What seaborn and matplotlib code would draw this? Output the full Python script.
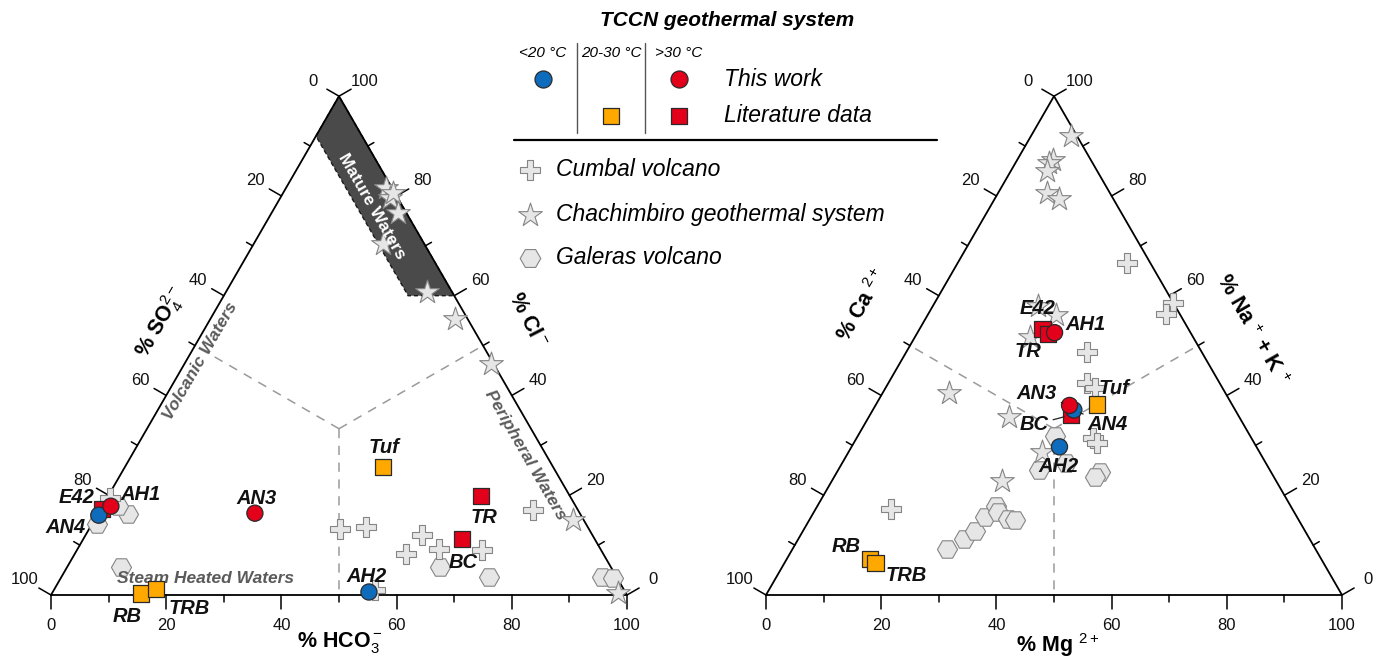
import numpy as np
import pandas as pd
import matplotlib
matplotlib.use("Agg")
import matplotlib.pyplot as plt
import seaborn as sns
from matplotlib.patches import Polygon

# TCCN samples, same order in both diagrams
sample_names = ["E42", "AH1", "AN4", "AN3", "RB", "TRB", "AH2", "Tuf", "TR", "BC"]
sample_groups = ["lit_hot", "this_hot", "this_cold", "this_hot", "lit_warm", "lit_warm",
                 "this_cold", "lit_warm", "lit_hot", "lit_hot"]

# anion diagram: % HCO3 and % Cl (SO4 is the rest)
sample_hco3 = [0.3, 1.5, 0.3, 27.2, 15.5, 17.6, 54.9, 44.8, 64.7, 65.8]
sample_cl = [17.2, 17.8, 16.0, 16.4, 0.3, 1.2, 0.6, 25.7, 19.8, 11.2]

# cation diagram: % Mg and % Na+K (Ca is the rest)
sample_mg = [21.3, 23.8, 34.9, 33.7, 14.5, 15.8, 36.1, 38.3, 22.7, 34.9]
sample_nak = [53.4, 52.6, 37.1, 38.0, 7.2, 6.4, 29.7, 38.2, 52.4, 36.1]

# reference data
cumbal_hco3 = [43.6, 47.9, 57.5, 58.4, 62.8, 70.3, 75.2, 55.8, 0.5]
cumbal_cl = [13.2, 13.6, 8.2, 12.0, 9.2, 9.0, 17.0, 1.0, 19.5]
cumbal_mg = [29.4, 41.3, 41.2, 31.4, 34.5, 36.5, 41.1, 42.3, 13.1]
cumbal_nak = [66.5, 58.6, 56.4, 48.8, 42.4, 41.4, 31.5, 30.5, 17.3]

chachimbiro_hco3 = [17.4, 19.1, 19.1, 21.9, 22.4, 34.9, 42.5, 53.2, 83.1, 98.2]
chachimbiro_cl = [81.6, 79.6, 80.6, 76.6, 70.4, 60.7, 55.3, 46.3, 15.0, 0.4]
chachimbiro_mg = [7.0, 6.1, 5.7, 6.4, 8.6, 11.3, 18.3, 22.2, 20.0, 11.6, 24.3, 33.5, 29.6]
chachimbiro_nak = [92.0, 87.3, 86.7, 84.9, 80.5, 79.3, 58.0, 56.2, 51.8, 40.4, 35.7, 28.7, 22.9]

galeras_hco3 = [0.9, 5.3, 2.7, 9.4, 64.7, 74.2, 93.9, 95.9]
galeras_cl = [14.2, 16.2, 17.8, 5.6, 5.6, 3.6, 3.6, 3.4]
galeras_mg = [34.3, 34.8, 38.8, 45.7, 45.2, 26.9, 28.8, 29.9, 30.2, 30.9, 32.0, 34.3, 35.7]
galeras_nak = [31.9, 25.1, 26.5, 24.7, 23.7, 9.2, 11.2, 12.9, 15.7, 17.9, 16.7, 15.3, 15.1]

# mature waters field (HCO3, Cl)
mature_hco3 = [0, 0, 32, 40]
mature_cl = [100, 92, 60, 60]

tick_values = list(range(0, 101, 10))

# label offsets in pixels (dx, dy up)
anion_offsets = {"E42": (-26, 12), "AH1": (30, 12), "AN4": (-33, -12), "AN3": (2, 15),
                 "RB": (-14, -23), "TRB": (33, -19), "AH2": (-2, 16), "Tuf": (1, 19),
                 "TR": (3, -21), "BC": (1, -23)}
cation_offsets = {"E42": (-5, 20), "TR": (-20, -18), "AH1": (31, 8), "AN3": (-33, 12),
                  "BC": (-37, -10), "AN4": (34, -15), "Tuf": (17, 16), "AH2": (-1, -20),
                  "RB": (-24, 13), "TRB": (31, -12)}
cation_leaders = ["AN3", "BC", "AN4"]

group_color = {"this_cold": "#0f6cbd", "this_hot": "#e2001a",
               "lit_warm": "#ffa800", "lit_hot": "#e2001a"}
group_marker = {"this_cold": "o", "this_hot": "o", "lit_warm": "s", "lit_hot": "s"}
draw_order = {"lit_warm": 0, "lit_hot": 1, "this_cold": 2, "this_hot": 3}

GRAY_FACE = "#e6e6e6"
GRAY_EDGE = "#858585"
REGION_GRAY = "#5a5a5a"

sns.set_style("white")
plt.rcParams["font.family"] = ["Liberation Sans", "DejaVu Sans"]
plt.rcParams["text.color"] = "black"
plt.rcParams["mathtext.fontset"] = "custom"
plt.rcParams["mathtext.rm"] = "Liberation Sans"
plt.rcParams["mathtext.it"] = "Liberation Sans:italic"
plt.rcParams["mathtext.bf"] = "Liberation Sans:bold"

W, H = 1386, 661
S = 5.76  # pixels per percent
R3 = np.sqrt(3) / 2


def to_xy(right, top):
    right = np.asarray(right, float)
    top = np.asarray(top, float)
    return right + top / 2, top * R3


fig = plt.figure(figsize=(W / 100, H / 100), dpi=100)


def make_ax(px_left, px_width, x0):
    ax = fig.add_axes([px_left / W, 0, px_width / W, 1])
    ax.set_xlim((px_left - x0) / S, (px_left + px_width - x0) / S)
    ax.set_ylim((595 - H) / S, 595 / S)
    ax.axis("off")
    return ax


def draw_frame(ax):
    cx, cy = to_xy([0, 100, 0, 0], [0, 0, 100, 0])
    ax.plot(cx, cy, color="black", lw=1.3, zorder=3)
    # dashed lines from centre to edge midpoints
    gx, gy = to_xy(100 / 3, 100 / 3)
    for mx, my in [to_xy(0, 50), to_xy(50, 50), to_xy(50, 0)]:
        ax.plot([gx, mx], [gy, my], color="#9a9a9a", lw=1.1, ls=(0, (6, 5)), zorder=1)
    edges = [
        (lambda v: to_xy(v, 0), (0, -1)),           # bottom
        (lambda v: to_xy(0, 100 - v), (-R3, 0.5)),  # left
        (lambda v: to_xy(100 - v, v), (R3, 0.5)),   # right
    ]
    for pos, (nx, ny) in edges:
        for v in tick_values:
            px, py = pos(v)
            major = v % 20 == 0
            ln = (14 if major else 7) / S
            ax.plot([px, px + nx * ln], [py, py + ny * ln], color="black", lw=1.1, zorder=3)
            if major:
                d = 30 / S
                ax.text(px + nx * d, py + ny * d, str(v), ha="center", va="center",
                        fontsize=12, color="#111")


def draw_points(ax, right_ref, top_ref, right_s, top_s, offsets, leaders):
    refs = [
        (right_ref[0], top_ref[0], "P", 210),
        (right_ref[1], top_ref[1], "*", 320),
        (right_ref[2], top_ref[2], "H", 210),
    ]
    # galeras first, then cumbal, then chachimbiro on top
    for idx in [2, 0, 1]:
        r, t, m, s = refs[idx]
        x, y = to_xy(r, t)
        sns.scatterplot(x=x, y=y, marker=m, s=s, color=GRAY_FACE, edgecolor=GRAY_EDGE,
                        linewidth=0.8, ax=ax, zorder=4, legend=False)
    x, y = to_xy(right_s, top_s)
    df = pd.DataFrame({"name": sample_names, "group": sample_groups, "x": x, "y": y})
    df["order"] = df["group"].map(draw_order)
    df = df.sort_values("order", kind="stable")
    sns.scatterplot(data=df, x="x", y="y", hue="group", style="group",
                    palette=group_color, markers=group_marker, s=135,
                    edgecolor="#2a2a2a", linewidth=0.9, ax=ax, zorder=6, legend=False)
    for _, row in df.iterrows():
        dx, dy = offsets[row["name"]]
        arrow = None
        if row["name"] in leaders:
            arrow = dict(arrowstyle="-", color="#222", lw=0.9, shrinkA=1, shrinkB=5)
        ax.annotate(row["name"], xy=(row["x"], row["y"]), xytext=(dx * 0.72, dy * 0.72),
                    textcoords="offset points", ha="center", va="center",
                    fontsize=14.5, fontweight="bold", fontstyle="italic", color="#111",
                    arrowprops=arrow, zorder=7)


# ---------------- anion diagram ----------------
axL = make_ax(0, 700, 51)
draw_frame(axL)
mx, my = to_xy(mature_hco3, mature_cl)
axL.add_patch(Polygon(np.column_stack([mx, my]), closed=True, facecolor="#4a4a4a",
                      edgecolor="#1a1a1a", ls=(0, (3, 2)), lw=1.0, zorder=2))
axL.text(55.7, 67.4, "Mature Waters", rotation=-60, ha="center", va="center",
         color="white", fontsize=12.5, fontweight="bold", zorder=5)
axL.text(26.0, 40.6, "Volcanic Waters", rotation=60, ha="center", va="center",
         color=REGION_GRAY, fontsize=12.5, fontweight="bold", fontstyle="italic")
axL.text(82.3, 24.3, "Peripheral Waters", rotation=-60, ha="center", va="center",
         color=REGION_GRAY, fontsize=12.5, fontweight="bold", fontstyle="italic")
axL.text(26.9, 2.95, "Steam Heated Waters", ha="center", va="center",
         color=REGION_GRAY, fontsize=12.5, fontweight="bold", fontstyle="italic", zorder=5)
axL.text(19.1, 47.4, r"% SO$_4^{2-}$", rotation=60, ha="center", va="center",
         fontsize=15.5, fontweight="bold")
axL.text(82.6, 47.7, r"% Cl$^-$", rotation=-63, ha="center", va="center",
         fontsize=15.5, fontweight="bold")
axL.text(50.2, -8.3, r"% HCO$_3^-$", ha="center", va="center",
         fontsize=15.5, fontweight="bold")
draw_points(axL, [cumbal_hco3, chachimbiro_hco3, galeras_hco3],
            [cumbal_cl, chachimbiro_cl, galeras_cl],
            sample_hco3, sample_cl, anion_offsets, [])

# ---------------- cation diagram ----------------
axR = make_ax(700, 686, 766)
draw_frame(axR)
axR.text(16.7, 50.3, r"% Ca $^{2+}$", rotation=60, ha="center", va="center",
         fontsize=15.5, fontweight="bold")
axR.text(84.4, 46.0, r"% Na $^{+}$ + K $^{+}$", rotation=-60, ha="center", va="center",
         fontsize=15.5, fontweight="bold")
axR.text(50.7, -8.7, r"% Mg $^{2+}$", ha="center", va="center",
         fontsize=15.5, fontweight="bold")
draw_points(axR, [cumbal_mg, chachimbiro_mg, galeras_mg],
            [cumbal_nak, chachimbiro_nak, galeras_nak],
            sample_mg, sample_nak, cation_offsets, cation_leaders)

# ---------------- legend ----------------
axG = fig.add_axes([0, 0, 1, 1])
axG.set_xlim(0, W)
axG.set_ylim(H, 0)
axG.axis("off")
axG.text(727, 20, "TCCN geothermal system", ha="center", va="center",
         fontsize=15, fontweight="bold", fontstyle="italic")
for hx, ht in [(543, "<20 °C"), (611, "20-30 °C"), (679, ">30 °C")]:
    axG.text(hx, 53, ht, ha="center", va="center", fontsize=11, fontstyle="italic")
for vx in [577, 645]:
    axG.plot([vx, vx], [43, 133], color="#555", lw=1)
axG.scatter([543], [79], marker="o", s=150, color=group_color["this_cold"], edgecolor="#2a2a2a", lw=0.9)
axG.scatter([679], [79], marker="o", s=150, color=group_color["this_hot"], edgecolor="#2a2a2a", lw=0.9)
axG.scatter([611], [116], marker="s", s=130, color=group_color["lit_warm"], edgecolor="#2a2a2a", lw=0.9)
axG.scatter([679], [116], marker="s", s=130, color=group_color["lit_hot"], edgecolor="#2a2a2a", lw=0.9)
axG.text(724, 79, "This work", ha="left", va="center", fontsize=16.5, fontstyle="italic")
axG.text(724, 116, "Literature data", ha="left", va="center", fontsize=16.5, fontstyle="italic")
axG.plot([514, 937], [140, 140], color="black", lw=1.6)
for ly, m, s, txt in [(170, "P", 210, "Cumbal volcano"),
                      (215, "*", 320, "Chachimbiro geothermal system"),
                      (258, "H", 220, "Galeras volcano")]:
    axG.scatter([530], [ly], marker=m, s=s, color=GRAY_FACE, edgecolor=GRAY_EDGE, lw=0.8)
    axG.text(556, ly, txt, ha="left", va="center", fontsize=16.5, fontstyle="italic")

fig.savefig("out.png", dpi=100)
